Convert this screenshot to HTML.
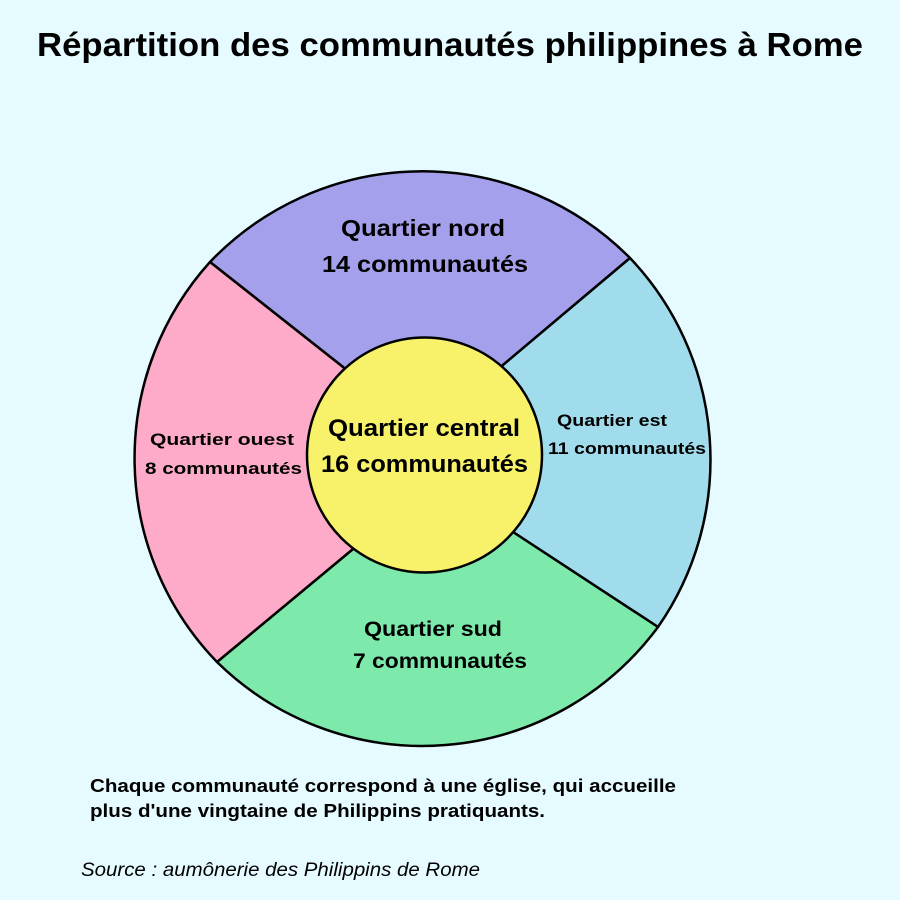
<!DOCTYPE html>
<html><head><meta charset="utf-8"><style>
html,body{margin:0;padding:0;background:#e6fbff;}
svg{display:block}
</style></head><body>
<svg width="900" height="900" viewBox="0 0 900 900" xmlns="http://www.w3.org/2000/svg">
<rect width="900" height="900" fill="#e6fbff"/>
<text x="37" y="56" textLength="826" lengthAdjust="spacingAndGlyphs" font-family="Liberation Sans, sans-serif" font-weight="bold" font-size="33" fill="#000">Répartition des communautés philippines à Rome</text>
<g stroke="#000" stroke-width="2.5" stroke-linejoin="round">
<path d="M424,457 L343,367 L210,262 A293,293 0 0 1 630,258 L503,365 Z" fill="#a5a0ec"/>
<path d="M424,457 L503,365 L630,258 A293,293 0 0 1 658,627 L513,532 Z" fill="#a0dcec"/>
<path d="M424,457 L513,532 L658,627 A293,293 0 0 1 217,662 L353,549 Z" fill="#7de9ab"/>
<path d="M424,457 L353,549 L217,662 A293,293 0 0 1 210,262 L343,367 Z" fill="#fdabc8"/>
<circle cx="424.5" cy="455" r="117.5" fill="#f7f26a"/>
</g>
<g font-family="Liberation Sans, sans-serif" font-weight="bold" fill="#000">
<text x="341" y="236" textLength="164" lengthAdjust="spacingAndGlyphs" font-size="23">Quartier nord</text>
<text x="322" y="272" textLength="206" lengthAdjust="spacingAndGlyphs" font-size="23">14 communautés</text>
<text x="328" y="436" textLength="192" lengthAdjust="spacingAndGlyphs" font-size="24">Quartier central</text>
<text x="321" y="472" textLength="207" lengthAdjust="spacingAndGlyphs" font-size="24">16 communautés</text>
<text x="557" y="426" textLength="110" lengthAdjust="spacingAndGlyphs" font-size="17">Quartier est</text>
<text x="548" y="454" textLength="158" lengthAdjust="spacingAndGlyphs" font-size="17">11 communautés</text>
<text x="150" y="445" textLength="144" lengthAdjust="spacingAndGlyphs" font-size="17">Quartier ouest</text>
<text x="145" y="474" textLength="157" lengthAdjust="spacingAndGlyphs" font-size="17">8 communautés</text>
<text x="364" y="636" textLength="138" lengthAdjust="spacingAndGlyphs" font-size="21">Quartier sud</text>
<text x="353" y="668" textLength="174" lengthAdjust="spacingAndGlyphs" font-size="21">7 communautés</text>
<text x="90" y="792" textLength="586" lengthAdjust="spacingAndGlyphs" font-size="18">Chaque communauté correspond à une église, qui accueille</text>
<text x="90" y="817" textLength="455" lengthAdjust="spacingAndGlyphs" font-size="18">plus d'une vingtaine de Philippins pratiquants.</text>
</g>
<text x="81" y="876" textLength="399" lengthAdjust="spacingAndGlyphs" font-family="Liberation Sans, sans-serif" font-style="italic" font-size="19" fill="#000">Source : aumônerie des Philippins de Rome</text>
</svg>
</body></html>
